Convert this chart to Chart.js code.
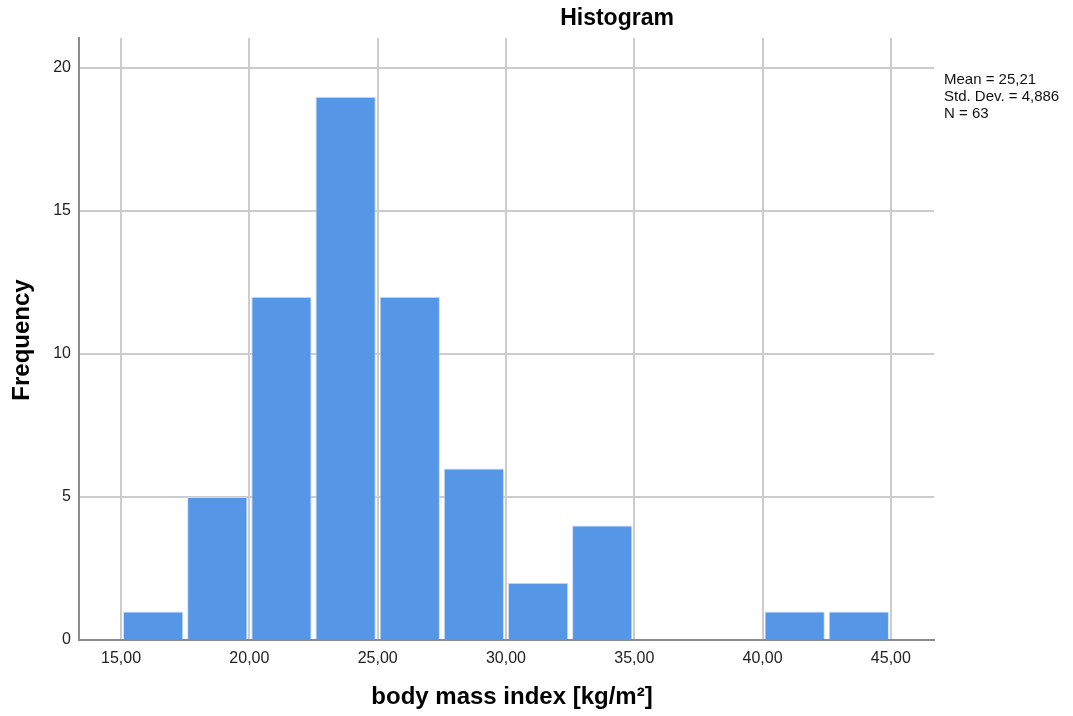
<!DOCTYPE html>
<html>
<head>
<meta charset="utf-8">
<script src="https://cdn.jsdelivr.net/npm/chart.js@4.4.1/dist/chart.umd.min.js"></script>
<style>
html,body{margin:0;padding:0;background:#fff;}
#wrap{position:relative;width:1073px;height:716px;}
</style>
</head>
<body>
<div id="wrap"><canvas id="c" width="1073" height="716"></canvas></div>
<script>
// Bin centers (bin width 2.5) and frequencies
const binCenters = [16.25, 18.75, 21.25, 23.75, 26.25, 28.75, 31.25, 33.75, 36.25, 38.75, 41.25, 43.75];
const frequencies = [1, 5, 12, 19, 12, 6, 2, 4, 0, 0, 1, 1];
const xTicks = [15, 20, 25, 30, 35, 40, 45];
const yTicks = [0, 5, 10, 15, 20];
const statLines = ["Mean = 25,21", "Std. Dev. = 4,886", "N = 63"];
const chartTitle = "Histogram";
const xTitle = "body mass index [kg/m\u00B2]";
const yTitle = "Frequency";

const FONT = "'Liberation Sans', Arial, sans-serif";

const textPlugin = {
  id: 'texts',
  afterDraw(chart) {
    const ctx = chart.ctx;
    const a = chart.chartArea;
    ctx.save();
    ctx.fillStyle = '#000';
    ctx.textAlign = 'center';
    ctx.textBaseline = 'middle';
    ctx.font = "bold 23px " + FONT;
    ctx.fillText(chartTitle, 617, 19);
    ctx.font = "bold 24px " + FONT;
    ctx.fillText(xTitle, 512, 697);
    ctx.save();
    ctx.translate(22, 340);
    ctx.rotate(-Math.PI / 2);
    ctx.fillText(yTitle, 0, 0);
    ctx.restore();
    ctx.font = "15px " + FONT;
    ctx.textAlign = 'left';
    ctx.textBaseline = 'alphabetic';
    ctx.fillStyle = '#111';
    statLines.forEach((t, i) => ctx.fillText(t, a.right + 10, 84 + i * 17));
    ctx.restore();
  }
};

new Chart(document.getElementById('c'), {
  type: 'bar',
  data: {
    datasets: [{
      data: binCenters.map((c, i) => ({x: c, y: frequencies[i]})),
      backgroundColor: '#5596e6',
      borderColor: 'rgba(200,220,250,0.9)',
      borderWidth: 1,
      barPercentage: 0.94,
      categoryPercentage: 1.0
    }]
  },
  options: {
    responsive: false,
    animation: false,
    devicePixelRatio: 1,
    layout: {padding: {left: 0, right: 139, top: 38, bottom: 0}},
    plugins: {legend: {display: false}, tooltip: {enabled: false}, title: {display: false}},
    scales: {
      x: {
        type: 'linear',
        offset: false,
        min: 13.36,
        max: 46.68,
        afterBuildTicks: s => { s.ticks = xTicks.map(v => ({value: v})); },
        afterFit: s => { s.height = 76; },
        grid: {color: '#cccccc', lineWidth: 2, drawTicks: false, offset: false},
        border: {display: true, color: '#8c8c8c', width: 2},
        ticks: {
          padding: 9,
          color: '#222',
          font: {family: FONT, size: 16},
          callback: v => v.toFixed(2).replace('.', ',')
        }
      },
      y: {
        min: 0,
        max: 21.05,
        afterBuildTicks: s => { s.ticks = yTicks.map(v => ({value: v})); },
        afterFit: s => { s.width = 79; },
        grid: {color: '#cccccc', lineWidth: 2, drawTicks: false},
        border: {display: true, color: '#8c8c8c', width: 2},
        ticks: {
          padding: 8,
          color: '#222',
          font: {family: FONT, size: 16},
          callback: v => String(v)
        }
      }
    }
  },
  plugins: [textPlugin]
});
</script>
</body>
</html>
